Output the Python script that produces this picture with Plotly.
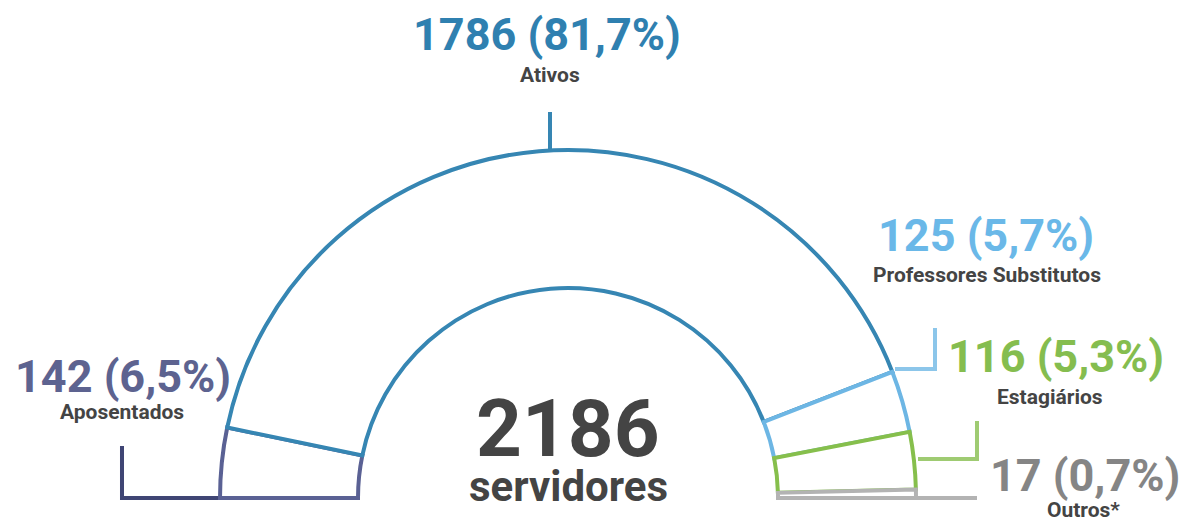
import math
import plotly.graph_objects as go

# ---- data ----
categories = ["Aposentados", "Ativos", "Professores Substitutos", "Estagiários", "Outros*"]
counts = [142, 1786, 125, 116, 17]
percent_labels = ["6,5%", "81,7%", "5,7%", "5,3%", "0,7%"]
total_label = "servidores"

# ---- style ----
W, H = 1185, 521
CX, CY = 568, 498          # centre of the half ring (px)
R_OUT, R_IN = 348, 210     # outer / inner radius of the ring (px)
PAD = 4                    # room around the ring so strokes are not clipped
SECTOR_PAD = 1.5           # degrees of extra sector below the horizontal
line_colors = ["#5a6194", "#3686b3", "#6db6e4", "#86bf4c", "#b3b3b3"]
text_colors = ["#5d6390", "#2f80b0", "#6ab8e8", "#85bd4f", "#858585"]
leader_colors = ["#3f4574", "#3686b3", "#8cc6ea", "#9fcb72", "#b3b3b3"]
DARK = "#444444"
FONT = "Roboto"

total = sum(counts)

# angular positions (0 = left end, 180 = right end)
widths, mids = [], []
acc = 0
for c in counts:
    w = c / total * 180.0
    widths.append(w)
    mids.append(acc + w / 2)
    acc += w

fig = go.Figure()
fig.add_trace(go.Barpolar(
    r=[1] * len(counts),
    theta=mids,
    width=widths,
    marker=dict(color="white", line=dict(color=line_colors, width=4)),
    hoverinfo="skip",
    showlegend=False,
))


def px_x(x):
    return x / W


def px_y(y):
    return 1 - y / H


shapes = []


def leader(points, color):
    path = "M " + " L ".join(f"{px_x(x):.5f},{px_y(y):.5f}" for x, y in points)
    shapes.append(dict(type="path", path=path, xref="paper", yref="paper",
                       line=dict(color=color, width=4), layer="below"))


# leader lines from the ring to each label
leader([(122, 446), (122, 498), (CX - R_OUT, 498)], leader_colors[0])
leader([(550, 112), (550, CY - R_OUT)], leader_colors[1])
leader([(935, 328), (935, 369), (895, 369)], leader_colors[2])
leader([(977, 421), (977, 459), (918, 459)], leader_colors[3])
leader([(CX + R_OUT, 498), (977, 498)], leader_colors[4])

annotations = []


def label(text, x, y, size, color):
    annotations.append(dict(text=text, x=px_x(x), y=px_y(y), xref="paper", yref="paper",
                            xanchor="center", yanchor="middle", showarrow=False,
                            borderpad=0,
                            font=dict(family=FONT, size=size, color=color, weight=700)))


label_pos = [
    ((123, 376), (122, 412)),
    ((547, 34), (550, 75)),
    ((986, 235), (987, 275)),
    ((1056, 356), (1050, 397)),
    ((1085, 475), (1083, 510)),
]
for i, cat in enumerate(categories):
    (vx, vy), (cx_, cy_) = label_pos[i]
    label(f"{counts[i]} ({percent_labels[i]})", vx, vy, 45, text_colors[i])
    label(cat, cx_, cy_, 21, DARK)

label(f"{total}", CX, 429, 80, DARK)
label(total_label, CX, 486, 42, DARK)

# polar area slightly larger than the ring so the outlines are drawn in full
r_pol = R_OUT + PAD
px_per_unit = R_OUT - R_IN
below = math.sin(math.radians(SECTOR_PAD)) * r_pol

fig.update_layout(
    width=W, height=H,
    margin=dict(l=0, r=0, t=0, b=0),
    paper_bgcolor="white",
    plot_bgcolor="white",
    showlegend=False,
    shapes=shapes,
    annotations=annotations,
    polar=dict(
        domain=dict(x=[px_x(CX - r_pol), px_x(CX + r_pol)],
                    y=[px_y(CY + below), px_y(CY - r_pol)]),
        sector=[-SECTOR_PAD, 180 + SECTOR_PAD],
        hole=(R_IN - PAD) / r_pol,
        bgcolor="rgba(0,0,0,0)",
        radialaxis=dict(range=[-PAD / px_per_unit, 1 + PAD / px_per_unit], visible=False),
        angularaxis=dict(rotation=180, direction="clockwise", visible=False,
                         showgrid=False, showline=False),
    ),
)

fig.write_html("out.html")
